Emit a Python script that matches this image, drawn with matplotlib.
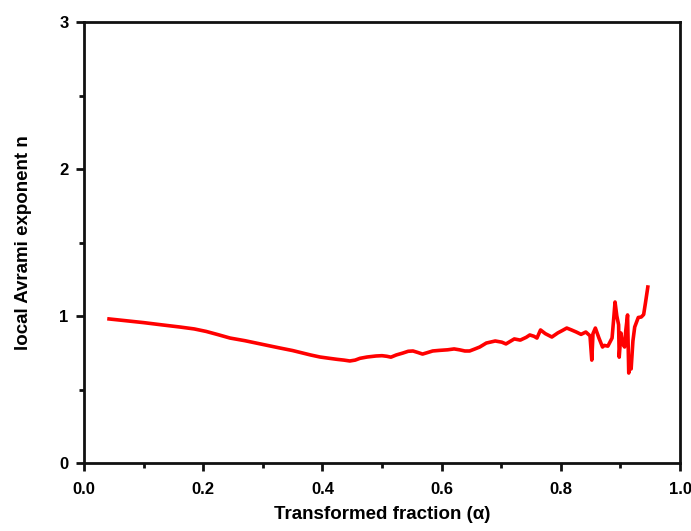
import matplotlib
matplotlib.use("Agg")
import matplotlib.pyplot as plt
from matplotlib.ticker import MultipleLocator

alpha = [0.042, 0.070, 0.100, 0.130, 0.161, 0.185, 0.205, 0.225, 0.245, 0.270, 0.290, 0.310, 0.329,
         0.350, 0.365, 0.380, 0.396, 0.412, 0.425, 0.436, 0.446, 0.455, 0.463, 0.475, 0.490,
         0.500, 0.508, 0.515, 0.524, 0.535, 0.544, 0.552, 0.560, 0.568, 0.577, 0.585, 0.596,
         0.610, 0.621, 0.630, 0.639, 0.647, 0.656, 0.664, 0.675, 0.690, 0.701, 0.708, 0.722,
         0.732, 0.742, 0.748, 0.755, 0.760, 0.766, 0.774, 0.785, 0.795, 0.802, 0.810,
         0.818, 0.826, 0.834, 0.842, 0.849, 0.852, 0.854, 0.858, 0.864, 0.870, 0.873, 0.879,
         0.886, 0.889, 0.891, 0.894, 0.897, 0.898, 0.901, 0.903, 0.907, 0.909, 0.912,
         0.914, 0.917, 0.918, 0.921, 0.924, 0.930, 0.935, 0.939, 0.942, 0.946]
n_local = [0.980, 0.968, 0.955, 0.940, 0.925, 0.912, 0.895, 0.873, 0.850, 0.832, 0.815, 0.798, 0.782,
           0.765, 0.750, 0.735, 0.721, 0.712, 0.705, 0.700, 0.694, 0.700, 0.712, 0.721, 0.728,
           0.730, 0.726, 0.720, 0.735, 0.748, 0.760, 0.762, 0.752, 0.741, 0.752, 0.762, 0.766,
           0.770, 0.776, 0.770, 0.762, 0.762, 0.776, 0.789, 0.816, 0.830, 0.822, 0.810, 0.844,
           0.836, 0.855, 0.871, 0.862, 0.850, 0.905, 0.880, 0.857, 0.885, 0.900, 0.918,
           0.905, 0.891, 0.875, 0.891, 0.865, 0.700, 0.880, 0.918, 0.850, 0.789, 0.800, 0.795,
           0.850, 0.993, 1.095, 1.000, 0.940, 0.720, 0.884, 0.820, 0.789, 0.900, 1.007,
           0.612, 0.680, 0.640, 0.830, 0.925, 0.990, 0.993, 1.010, 1.088, 1.197]

x_ticks = [0.0, 0.2, 0.4, 0.6, 0.8, 1.0]
x_tick_labels = ["0.0", "0.2", "0.4", "0.6", "0.8", "1.0"]
y_ticks = [0, 1, 2, 3]
y_tick_labels = ["0", "1", "2", "3"]

plt.rcParams['font.family'] = ['Liberation Sans', 'DejaVu Sans']
plt.rcParams['font.weight'] = 'bold'

fig = plt.figure(figsize=(6.91, 5.31), dpi=100)
ax = fig.add_axes([84/691, 68/531, 596/691, 441/531])

ax.plot(alpha, n_local, color='#ff0000', linewidth=2.6, solid_joinstyle='round')

ax.set_xlim(0, 1.0)
ax.set_ylim(0, 3)
ax.set_xticks(x_ticks)
ax.set_xticklabels(x_tick_labels)
ax.set_yticks(y_ticks)
ax.set_yticklabels(y_tick_labels)
ax.xaxis.set_minor_locator(MultipleLocator(0.1))
ax.yaxis.set_minor_locator(MultipleLocator(0.5))

for s in ax.spines.values():
    s.set_linewidth(2.0)
    s.set_color('#111111')

ax.tick_params(axis='both', which='major', direction='out', length=6, width=2, labelsize=12, color='#111111')
ax.tick_params(axis='both', which='minor', direction='out', length=3.5, width=2, color='#111111')
ax.tick_params(top=False, right=False, which='both')
ax.tick_params(axis='x', pad=8)
ax.tick_params(axis='y', pad=5)

ax.set_xlabel("Transformed fraction (\u03b1)", fontsize=13.5, fontweight='bold', labelpad=6)
ax.set_ylabel("local Avrami exponent n", fontsize=13.5, fontweight='bold', labelpad=20)

fig.savefig("out.png", dpi=100)
